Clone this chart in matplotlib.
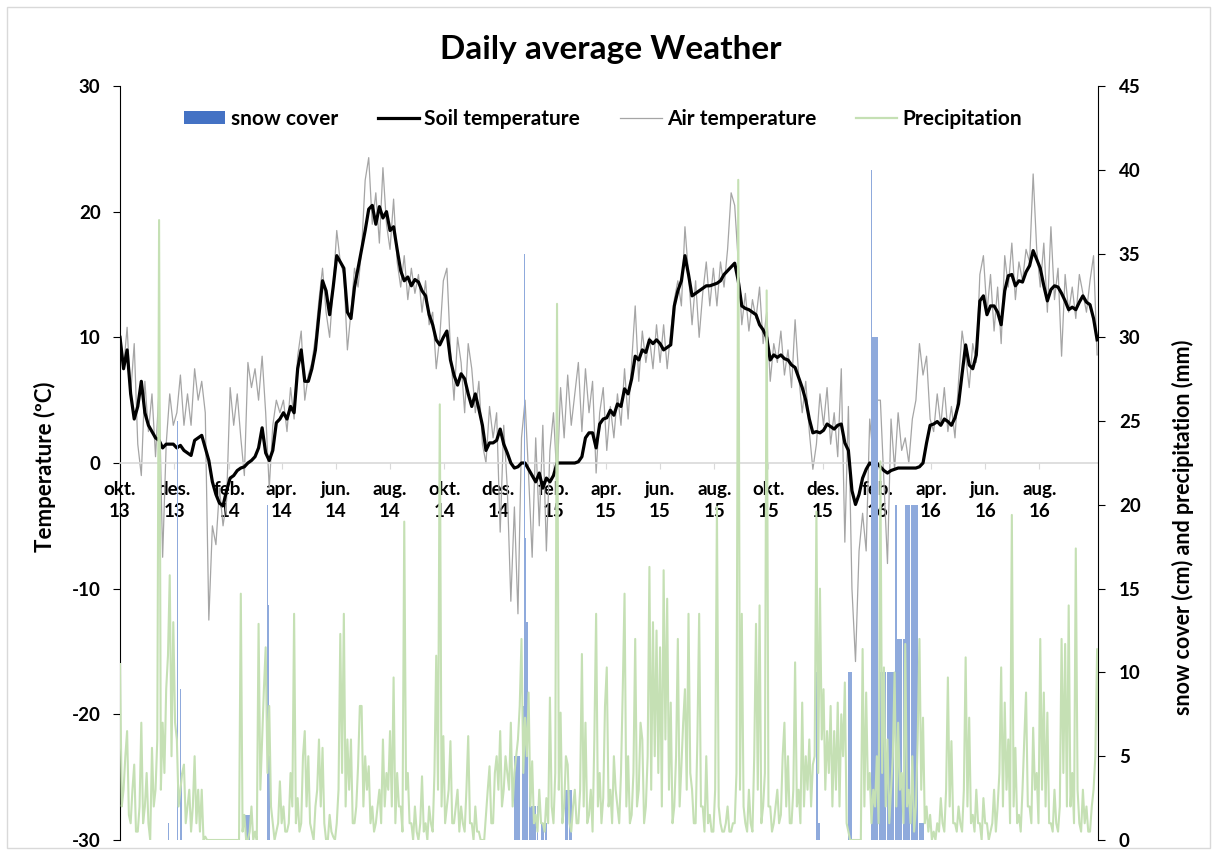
import pandas as pd
import matplotlib.pyplot as plt
from matplotlib.patches import Patch, Rectangle
from matplotlib.lines import Line2D

plt.rcParams['font.family'] = ['Lato', 'DejaVu Sans']
plt.rcParams['font.weight'] = 'bold'
plt.rcParams['axes.unicode_minus'] = False

# Daily weather, temperatures sampled every 4 days from 1 Oct 2013 (one row ~ one month)
start_date = '2013-10-01'
temp_step_days = 4
precip_step_days = 2

air_temp = [
    10.5, 7.5, 10.8, 5.5, 9.5, 1.5, -1.0, 6.5,
    2.5, 5.5, 0.5, 6, -7.5, 1.5, 5.5, 3,
    4, 7, 3, 5.5, 3, 7.5, 5,
    6.5, 4, -12.5, -5, -6.5, -2, -5, -3,
    6, 3, 5.5, 2, -1, 8, 6,
    7.5, 5, 8.5, 4, -2, 3, 5, 4,
    5, 2.5, 6, 3.5, 8.5, 10.5, 5,
    7, 8, 10, 13, 15.5, 12, 10, 14,
    18.5, 16, 15, 9, 12, 15.5, 14,
    17, 22.5, 24.3, 19, 21.5, 17.5, 23.5, 19,
    17, 21, 16, 14, 16.5, 13, 15.5, 13.5,
    15, 12, 14.5, 11, 12, 7.5, 10,
    14.5, 15.5, 9, 5, 10, 8, 4, 9.5,
    7.5, 4, 6.5, 1.5, 0, 4.5, 2, 4,
    -5.5, 3, -2, -11, -3.5, -12, 2,
    5, -1, -7.5, 2, -5, 3, -7, 1,
    4, -1.5, 6, 2, 7, 3, 5.5,
    8, 2.5, 7.5, 4, 6.5, -0.8, 4, 6,
    1, 4.5, 2, 5.5, 3, 7.5, 3.5,
    8, 12.5, 6.5, 10.5, 8, 10, 7.5, 11,
    8, 11, 7.5, 10.5, 13, 14.5, 12.5, 18.8,
    15, 11, 14.5, 10, 13.5, 16, 12.5,
    15.5, 12.5, 16, 14, 17, 21.5, 20.5, 16,
    11, 13.5, 10.5, 13, 11.5, 14, 9.5, 12,
    6.5, 9.5, 8, 10.5, 7, 9, 6, 11.4,
    7, 4, 6.5, 2.5, -0.5, 1.5, 5.5,
    3, 6, 1.5, 4, 0.5, 7.5, -6.3, 4.5,
    -10, -15.8, -7, -4, -7, 3.5, 0.5, 5,
    5, -1.5, -8, 3.5, -0.5, 4, 1,
    2, 0, 3.5, 5, 9.5, 7, 8.5, 3.5,
    2.5, 5.5, 3, 6, 2.5, 4.5, 2,
    6.5, 10.5, 8.5, 6, 9.5, 8, 15, 16.5,
    12, 15, 10.5, 14, 9.5, 16.5, 14,
    17.5, 13, 16, 14.5, 17, 16, 23, 17,
    14, 17.5, 12, 18.8, 13, 15.5, 8.5, 15,
    12, 14, 11.5, 15, 13.5, 12, 14.5, 16.5, 8.6,
]

soil_temp = [
    10, 7.5, 9, 5.5, 3.5, 4.5, 6.5, 4,
    3, 2.5, 2, 1.8, 1.2, 1.5, 1.5, 1.5,
    1.2, 1.4, 1, 0.8, 0.6, 1.8, 2,
    2.2, 1.2, 0.2, -1.5, -2.5, -3.2, -3.4, -2.2,
    -1.2, -1.0, -0.6, -0.4, -0.3, 0, 0.2,
    0.5, 1.2, 2.8, 0.8, 0.2, 1, 3.2, 3.5,
    4, 3.5, 4.5, 4, 7.5, 9, 6.5,
    6.5, 7.5, 9, 11.8, 14.5, 13.7, 11.8, 14,
    16.5, 16, 15.5, 12, 11.5, 14, 15.5,
    17, 18.5, 20.2, 20.5, 19, 20.4, 19.5, 20,
    18.5, 18.8, 17, 15.3, 14.5, 14.8, 14.1, 14.6,
    14.4, 13.7, 13.3, 11.8, 11, 9.8, 9.4,
    10, 10.5, 8.2, 7, 6.2, 7.1, 6.7, 5.5,
    4.5, 5.5, 4.3, 3, 1, 1.6, 1.6, 1.8,
    2.7, 1.5, 0.8, 0, -0.4, -0.3, 0,
    0, -0.5, -1, -1.5, -0.8, -2, -1.2, -1.5,
    -1, 0, 0, 0, 0, 0, 0,
    0.1, 0.5, 2, 2.4, 2.4, 1.2, 3.1, 3.5,
    3.6, 4.2, 3.8, 4.7, 4.5, 5.9, 5.5,
    6.7, 8.5, 8.2, 9, 8.8, 9.8, 9.5, 9.8,
    9.5, 9, 9.2, 9.4, 12.5, 13.7, 14.5, 16.5,
    15, 13.3, 13.5, 13.7, 13.9, 14.1, 14.1,
    14.2, 14.3, 14.5, 15, 15.3, 15.6, 15.9, 14.5,
    12.5, 12.3, 12.2, 12, 11.8, 11, 10.6, 10,
    8.2, 8.6, 8.4, 8.6, 8.3, 8.2, 7.8, 7.6,
    6.8, 6, 5, 3.5, 2.4, 2.5, 2.4,
    2.6, 3.1, 2.9, 2.7, 3.0, 3.1, 1.6, 1.0,
    -2.2, -3.3, -2.5, -1.2, -0.5, 0, -0.2, 0,
    -0.3, -0.6, -0.8, -0.6, -0.5, -0.4, -0.4,
    -0.4, -0.4, -0.4, -0.4, -0.3, 0, 1.6, 3,
    3.1, 3.3, 3.0, 3.5, 3.3, 3.0, 3.6,
    4.7, 7.1, 9.4, 7.8, 7.5, 8.6, 12.9, 13.3,
    11.8, 12.5, 12.5, 12, 11, 13.7, 14.9,
    15, 14.1, 14.5, 14.4, 15.2, 15.7, 16.9, 16.2,
    15.5, 14.1, 12.9, 13.8, 14.1, 14, 13.5, 12.9,
    12.2, 12.4, 12.2, 12.8, 13.3, 12.8, 12.6, 11.5, 9.8,
]

# precipitation (mm), every 2 days
precip = [
    10.5, 2, 3, 5, 6.5, 1.5, 1, 3, 4.5, 0.5, 0.5, 2, 7, 1, 2, 4,
    1, 0, 5.5, 2, 3, 6, 37, 3, 7, 4, 9, 11, 15.8, 5, 13, 7,
    6, 2, 3, 4, 4.5, 1, 2, 3, 0.5, 2, 5, 1, 3, 0.5,
    3, 0, 0.2, 0, 0, 0, 0, 0, 0, 0, 0, 0, 0, 0, 0, 0,
    0, 0, 0, 0, 0, 0, 14.7, 0.5, 1.5, 0, 0, 0.5, 2, 0,
    0.5, 0, 12.9, 3, 6, 9, 11.5, 4, 8, 2, 1, 0, 0.5, 1, 3.5, 1,
    2, 0.5, 0.5, 1, 4, 2, 13.5, 1, 2.5, 0.5, 1, 5, 6.5, 2,
    5, 1, 0.5, 0, 2, 3, 6, 2, 5.5, 1, 0, 0, 1.5, 0.5, 0.2, 0,
    1, 3, 12.3, 4, 13.5, 2, 6, 3, 6, 1, 1, 2, 4.4, 8,
    8, 2, 5, 3, 4.4, 1, 2, 0.5, 1, 2, 3, 1, 6, 2, 4, 3,
    6.5, 2, 9.7, 1, 4, 2, 2, 0.5, 19, 3, 4, 1, 1, 0, 2, 0.5,
    0, 1, 3.8, 0.5, 1, 0, 2, 1, 0.5, 4, 11, 3, 26, 2,
    6.2, 1, 2, 3, 5.9, 1, 1, 2, 3, 0.5, 2, 1, 0.5, 3, 6.2, 1,
    1, 0, 2, 0.5, 0.5, 0, 0, 0, 1.5, 3, 4.4, 1, 1, 4, 5, 3,
    6.5, 2, 3, 5, 4, 3, 7, 2, 4, 5, 6, 8, 12, 4,
    7.3, 5, 8.8, 2, 4.7, 1, 1.5, 0.5, 3, 1, 1, 0.5, 2.5, 1, 8.5, 2,
    1, 4, 32, 3, 7.6, 1, 2, 5, 4.5, 1, 0.5, 2, 3, 1,
    1, 3, 11.1, 2, 7, 1, 1.5, 3, 0.5, 6, 13.5, 2, 4, 1, 2.5, 8,
    10.3, 2, 3, 1, 5, 3, 2, 1, 4, 9, 14.7, 2, 5, 1,
    1.5, 4, 12, 2, 3, 7, 6, 1, 2, 5, 16.3, 3, 13, 5, 12.5, 4,
    11.5, 2, 16.1, 6, 14.4, 3, 8.2, 1, 2, 5, 12, 2, 4.4, 7, 9, 3,
    13.5, 4, 3, 1, 1, 6, 13.5, 2, 2, 0.5, 5, 1, 1.5, 0.5,
    0.5, 3, 19.9, 2, 1, 0.5, 0.5, 1, 2, 0.5, 0.5, 1, 1, 4, 39.4, 3,
    13.5, 2, 1, 0.5, 3, 1, 0.5, 5, 12.9, 3, 14, 1, 2, 4, 32.8, 2,
    2, 0.5, 1, 2, 3, 1, 1.5, 5, 7, 2, 5, 1, 1, 3, 10.6, 2,
    3, 1, 8.2, 2, 5, 3, 6, 2, 4.5, 5, 19.6, 4, 15, 6,
    9, 3, 6.5, 4, 8, 2, 6.5, 3, 8.2, 2, 7.5, 5, 9.4, 1, 0.5, 0,
    0, 0, 0, 0, 0, 0, 11.4, 2, 8.8, 3, 4, 1, 3, 2, 5, 1,
    22.6, 4, 10.3, 2, 6, 1, 3, 5, 10, 2, 7, 3, 4, 1,
    11.7, 2, 3, 1, 5, 0.5, 2, 6, 12, 3, 7.3, 1, 2, 0.5, 1.5, 0,
    0.5, 0, 1, 0.5, 2.5, 1, 0.5, 3, 9.7, 2, 5.9, 1, 1, 0.5,
    2, 1, 0.5, 3, 10.9, 2, 7.3, 1, 1.5, 0.5, 3, 1, 1, 0, 2.5, 1,
    1, 0, 0.5, 1, 3, 0.5, 2, 4, 10.3, 2, 8.2, 3, 6, 1,
    19.4, 2, 5.5, 1, 1.5, 0.5, 3, 6, 8.8, 2, 2, 1, 6.7, 3, 4, 1,
    12, 3, 8.8, 2, 7.6, 1, 1, 0.5, 3, 1, 0.5, 2, 12, 4, 11.7, 2,
    14, 2, 4, 1, 17.4, 3, 1, 0.5, 3, 1, 2, 0.5, 0.5, 2, 3, 5, 11.4, 6,
]

# Snow cover periods (first day, last day, cm)
snow_from = ['2013-11-24', '2013-12-04', '2013-12-06', '2013-12-07', '2013-12-08', '2013-12-09',
             '2014-01-10', '2014-02-19', '2014-03-16', '2014-03-17', '2014-03-18',
             '2014-12-17', '2014-12-29', '2014-12-30', '2014-12-31', '2015-01-01', '2015-01-03',
             '2015-01-07', '2015-01-18', '2015-02-14',
             '2015-11-24', '2015-11-26', '2015-12-30',
             '2016-01-24', '2016-01-25', '2016-01-26', '2016-02-02', '2016-02-19', '2016-02-23',
             '2016-03-03', '2016-03-18']
snow_to = ['2013-11-24', '2013-12-05', '2013-12-06', '2013-12-07', '2013-12-08', '2013-12-09',
           '2014-01-11', '2014-02-23', '2014-03-16', '2014-03-17', '2014-03-18',
           '2014-12-28', '2014-12-29', '2014-12-30', '2014-12-31', '2015-01-02', '2015-01-06',
           '2015-01-14', '2015-01-24', '2015-02-21',
           '2015-11-25', '2015-11-27', '2016-01-02',
           '2016-01-24', '2016-01-25', '2016-02-01', '2016-02-18', '2016-02-22', '2016-03-02',
           '2016-03-17', '2016-03-23']
snow_cm = [1, 25, 16, 13, 9, 4,
           3, 1.5, 20, 14, 5,
           5, 8, 35, 18, 13, 4,
           2, 1, 3,
           10, 1, 10,
           35, 40, 30, 10, 20, 12,
           20, 1]

tick_dates = ['2013-10-01', '2013-12-01', '2014-02-01', '2014-04-01', '2014-06-01', '2014-08-01',
              '2014-10-01', '2014-12-01', '2015-02-01', '2015-04-01', '2015-06-01', '2015-08-01',
              '2015-10-01', '2015-12-01', '2016-02-01', '2016-04-01', '2016-06-01', '2016-08-01']
tick_labels = ['okt.\n13', 'des.\n13', 'feb.\n14', 'apr.\n14', 'jun.\n14', 'aug.\n14',
               'okt.\n14', 'des.\n14', 'feb.\n15', 'apr.\n15', 'jun.\n15', 'aug.\n15',
               'okt.\n15', 'des.\n15', 'feb.\n16', 'apr.\n16', 'jun.\n16', 'aug.\n16']

temp_dates = pd.date_range(start_date, periods=len(air_temp), freq=f'{temp_step_days}D')
precip_dates = pd.date_range(start_date, periods=len(precip), freq=f'{precip_step_days}D')

# expand snow periods into daily bars
snow_days, snow_vals = [], []
for a, b, v in zip(snow_from, snow_to, snow_cm):
    for d in pd.date_range(a, b, freq='D'):
        snow_days.append(d)
        snow_vals.append(v)

fig = plt.figure(figsize=(12.12, 8.5), dpi=100)
fig.patches.append(Rectangle((0.006, 0.002), 0.992, 0.99, transform=fig.transFigure,
                             fill=False, edgecolor='#D9D9D9', linewidth=1))

ax1 = fig.add_axes([120 / 1212, 10 / 850, 978 / 1212, 754 / 850])
ax2 = ax1.twinx()

ax1.plot(temp_dates, air_temp, color='#A5A5A5', linewidth=0.9, zorder=2)
ax1.plot(temp_dates, soil_temp, color='black', linewidth=2.3, zorder=3)

ax2.bar(snow_days, snow_vals, width=0.85, color='#8FAADC', align='edge', zorder=2)
ax2.plot(precip_dates, precip, color='#C5E0B4', linewidth=1.5, zorder=3)

ax1.set_xlim(pd.Timestamp('2013-10-01'), pd.Timestamp('2016-10-06'))
ax1.set_ylim(-30, 30)
ax2.set_ylim(0, 45)
ax1.set_yticks(range(-30, 31, 10))
ax2.set_yticks(range(0, 46, 5))

for s in ['top', 'right']:
    ax1.spines[s].set_visible(False)
for s in ['top', 'bottom', 'left']:
    ax2.spines[s].set_visible(False)
ax1.spines['bottom'].set_position(('data', 0))
ax1.spines['bottom'].set_color('#D9D9D9')
ax1.spines['bottom'].set_linewidth(1.2)
ax1.spines['left'].set_color('black')
ax2.spines['right'].set_color('black')

ax1.tick_params(axis='x', direction='out', length=4, color='#D9D9D9', pad=9, labelsize=13.5)
ax1.tick_params(axis='y', direction='out', length=5, labelsize=13.5, pad=9)
ax2.tick_params(axis='y', direction='out', length=5, labelsize=13.5, pad=10)

ax1.set_xticks(pd.to_datetime(tick_dates))
ax1.set_xticklabels(tick_labels, linespacing=1.35)
for lab in ax1.get_xticklabels() + ax1.get_yticklabels() + ax2.get_yticklabels():
    lab.set_fontweight('bold')
    lab.set_fontsize(13.5)

fig.text(45 / 1212, 1 - 467 / 850, 'Temperature (ºC)', rotation=90, ha='center', va='center',
         fontsize=16, fontweight='bold')
fig.text(1183 / 1212, 1 - 527 / 850, 'snow cover (cm) and precipitation (mm)', rotation=90,
         ha='center', va='center', fontsize=15.5, fontweight='bold')
fig.text(611 / 1212, 1 - 50 / 850, 'Daily average Weather', ha='center', va='center',
         fontsize=24, fontweight='bold')

handles = [Patch(facecolor='#4472C4'),
           Line2D([], [], color='black', linewidth=2.3),
           Line2D([], [], color='#A5A5A5', linewidth=0.9),
           Line2D([], [], color='#C5E0B4', linewidth=1.6)]
names = ['snow cover', 'Soil temperature', 'Air temperature', 'Precipitation']
fig.legend(handles, names, loc='center', bbox_to_anchor=(603 / 1212, 1 - 119 / 850), ncol=4,
           frameon=False, handlelength=2.0, handleheight=0.6, columnspacing=1.9,
           handletextpad=0.25, prop={'weight': 'bold', 'size': 15})

fig.savefig('out.png', dpi=100)
